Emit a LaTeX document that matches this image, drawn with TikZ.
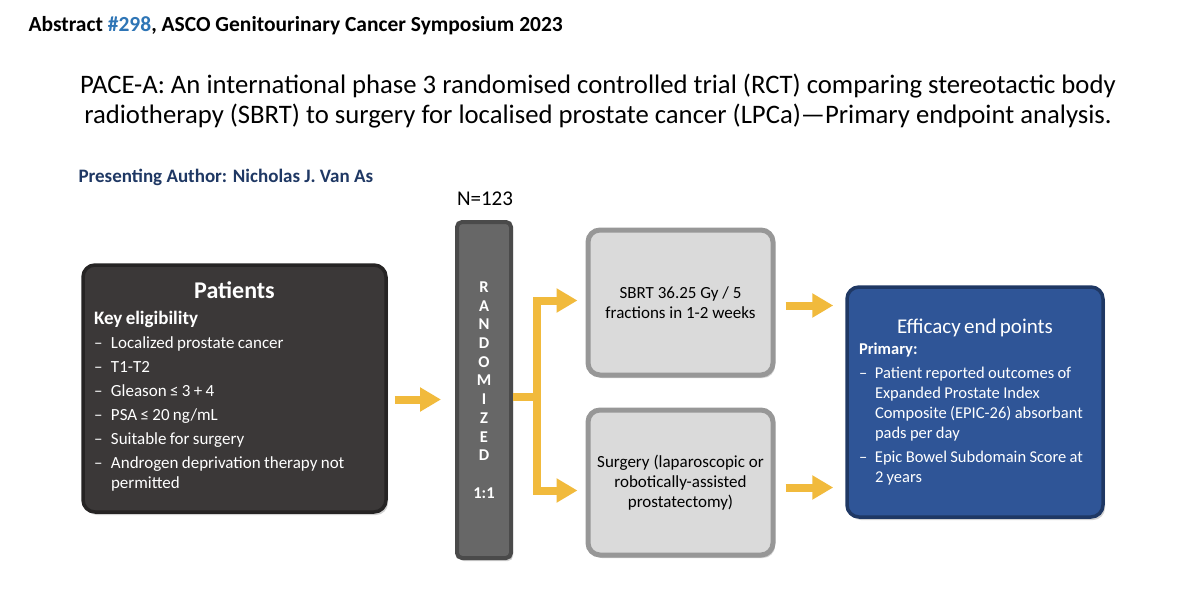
\documentclass[tikz,border=0pt]{standalone}
\usepackage{fontspec}
\setmainfont{Carlito}
\usetikzlibrary{arrows.meta,positioning,shadows}

\definecolor{patfill}{HTML}{3B3838}
\definecolor{patrim}{HTML}{262424}
\definecolor{randfill}{HTML}{676767}
\definecolor{randrim}{HTML}{4A4A4A}
\definecolor{armfill}{HTML}{DADADA}
\definecolor{armrim}{HTML}{979797}
\definecolor{efffill}{HTML}{2F5597}
\definecolor{effrim}{HTML}{1F3864}
\definecolor{arrowyel}{HTML}{F1BA3C}
\definecolor{authblue}{HTML}{1F3864}
\definecolor{numblue}{HTML}{2E75B6}

% dash item with hanging indent
\newcommand{\dashitem}[2][16pt]{\par\hangindent=#1\hangafter=1\noindent\makebox[#1][l]{–}#2}

\begin{document}
\begin{tikzpicture}[x=1pt, y=-1pt,
  bigbox/.style={rounded corners=12pt, line width=3.5pt, inner sep=0pt, align=left,
    text=white, drop shadow={shadow xshift=2pt, shadow yshift=-3pt, opacity=0.35}},
  randbar/.style={rounded corners=5pt, fill=randfill, draw=randrim, line width=4pt,
    minimum width=54pt, minimum height=336pt, inner sep=0pt, align=center,
    text=white, font=\bfseries\fontsize{16.5}{18.7}\selectfont,
    drop shadow={shadow xshift=2pt, shadow yshift=-3pt, opacity=0.35}},
  armbox/.style={rounded corners=12pt, fill=armfill, draw=armrim, line width=5pt,
    minimum width=185pt, minimum height=145pt, text width=182pt, inner sep=0pt,
    align=flush center, font=\fontsize{17}{20}\selectfont,
    drop shadow={shadow xshift=2pt, shadow yshift=-3pt, opacity=0.35}},
  arr/.style={draw=arrowyel, line width=8pt, -{Triangle[length=21pt,width=23pt]}},
  arrline/.style={draw=arrowyel, line width=8pt}]

\useasboundingbox[fill=white] (0,0) rectangle (1200,610);

% header
\node[anchor=base west, font=\bfseries\fontsize{21.5}{25}\selectfont] (hdr) at (25,32)
  {Abstract \textcolor{numblue}{\#298}, ASCO Genitourinary Cancer Symposium 2023};
\node[align=center, font=\fontsize{26.7}{30}\selectfont] (title) at (598,101)
  {PACE-A: An international phase 3 randomised controlled trial (RCT) comparing stereotactic body\\
   radiotherapy (SBRT) to surgery for localised prostate cancer (LPCa)—Primary endpoint analysis.};
\node[anchor=base west, text=authblue, font=\bfseries\fontsize{19}{22}\selectfont] (author) at (75,182)
  {Presenting Author: Nicholas J. Van As};
\node[font=\fontsize{21}{24}\selectfont] (n) at (485,199) {N=123};

% boxes
\node[bigbox, fill=patfill, draw=patrim, minimum width=303pt, minimum height=247pt,
  text width=281pt] (pat) at (234.5,388.5)
  {{\centering\fontsize{24}{26}\selectfont\bfseries Patients\par}
   \vspace{4pt}\fontsize{19}{22}\selectfont\bfseries Key eligibility\par
   \fontsize{17}{20}\selectfont\mdseries\setlength{\parskip}{4pt}
   \dashitem[17pt]{Localized prostate cancer}
   \dashitem[17pt]{T1-T2}
   \dashitem[17pt]{Gleason ≤ 3 + 4}
   \dashitem[17pt]{PSA ≤ 20 ng/mL}
   \dashitem[17pt]{Suitable for surgery}
   \dashitem[17pt]{Androgen deprivation therapy not\newline permitted}\par
   \vspace*{5pt}};

\node[randbar] (rand) at (484,390) {R\\A\\N\\D\\O\\M\\I\\Z\\E\\D\\[18.7pt]1:1};

\node[armbox] (sbrt) at (680.5,302.5) {SBRT 36.25 Gy / 5\\fractions in 1-2 weeks};
\node[armbox] (surg) at (680.5,482.5) {Surgery (laparoscopic or\\robotically-assisted\\prostatectomy)};

\node[bigbox, fill=efffill, draw=effrim, minimum width=256pt, minimum height=230pt,
  text width=232pt] (eff) at (975,402)
  {{\centering\fontsize{21}{24}\selectfont Efficacy end points\par}
   \vspace{1pt}\fontsize{16.5}{20}\selectfont\bfseries Primary:\par
   \mdseries\setlength{\parskip}{4pt}
   \dashitem{Patient reported outcomes of\newline Expanded Prostate Index\newline Composite (EPIC-26) absorbant\newline pads per day}
   \dashitem{Epic Bowel Subdomain Score at\newline 2 years}\par};

% connectors
\coordinate (split) at (537,397);
\draw[arr, shorten <=7pt, shorten >=14pt] ([yshift=-11pt]pat.east) -- ([yshift=-11pt]pat.east -| rand.west);
\draw[arrline] ([yshift=-7pt]rand.east) -- (split);
\draw[arr, shorten >=8pt, line join=miter] (split) |- ([yshift=2pt]sbrt.west);
\draw[arr, shorten >=8pt, line join=miter] (split) |- ([yshift=-8pt]surg.west);
\draw[arr, shorten <=10pt, shorten >=12pt] ([yshift=-3pt]sbrt.east) -- ([yshift=-3pt]sbrt.east -| eff.west);
\draw[arr, shorten <=10pt, shorten >=12pt] ([yshift=-5pt]surg.east) -- ([yshift=-5pt]surg.east -| eff.west);
\end{tikzpicture}
\end{document}
